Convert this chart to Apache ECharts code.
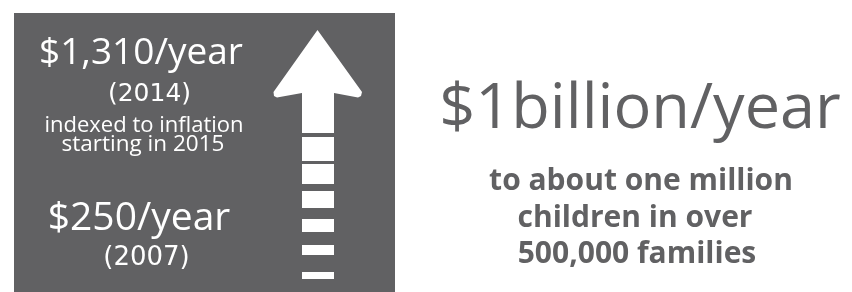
<!DOCTYPE html>
<html>
<head>
<meta charset="utf-8">
<script src="https://cdn.jsdelivr.net/npm/echarts@6/dist/echarts.min.js"></script>
<style>
html,body{margin:0;padding:0;background:#fff;}
#chart{width:852px;height:292px;}
</style>
</head>
<body>
<div id="chart"></div>
<script>
// ---- content ----
var topAmount = '$1,310/year';
var topYear = '(2014)';
var noteLines = ['indexed to inflation', 'starting in 2015'];
var baseAmount = '$250/year';
var baseYear = '(2007)';
var headline = '$1billion/year';
var subLines = ['to about one million', 'children in over', '500,000 families'];

var BOX = '#616163';
var FONT = '"Open Sans", sans-serif';
var FONT2 = '"DejaVu Sans", sans-serif';

var chart = echarts.init(document.getElementById('chart'), null, {renderer: 'canvas'});

function txt(s, x, y, size, weight, color, fam) {
  return {
    type: 'text', x: x, y: y, silent: true,
    style: {text: s, fill: color, font: weight + ' ' + size + 'px ' + (fam || FONT), align: 'center', verticalAlign: 'middle'}
  };
}

var elems = [];
// dark panel
elems.push({type: 'rect', shape: {x: 14, y: 13, width: 381, height: 279}, style: {fill: BOX}});
// arrow head + shaft
elems.push({
  type: 'polygon',
  shape: {points: [[317.5, 30], [362, 92], [361, 96], [358, 97.5], [334, 93], [334, 133], [302, 133], [302, 93], [277, 97.5], [274, 96], [273.5, 92]]},
  style: {fill: '#fff'}
});
// dashed tail of the arrow
var dashes = [[137, 161], [164, 184], [191, 208], [219, 232], [245, 255], [272, 279]];
dashes.forEach(function (d) {
  elems.push({type: 'rect', shape: {x: 302, y: d[0], width: 32, height: d[1] - d[0]}, style: {fill: '#fff'}});
});

// left texts
elems.push(txt(topAmount, 141, 53, 37, 'normal', '#fff'));
elems.push(txt(topYear, 149.5, 94, 25, 'normal', '#fff', FONT2));
elems.push(txt(noteLines[0], 144, 126, 22, 'normal', '#fff'));
elems.push(txt(noteLines[1], 143, 145, 22.5, 'normal', '#fff'));
elems.push(txt(baseAmount, 139, 219, 39, 'normal', '#fff'));
elems.push(txt(baseYear, 146.5, 258, 26, 'normal', '#fff', FONT2));

// right texts
elems.push(txt(headline, 640, 110, 63, 'normal', BOX));
elems.push(txt(subLines[0], 641, 181, 30, 'bold', BOX));
elems.push(txt(subLines[1], 635, 218, 30, 'bold', BOX));
elems.push(txt(subLines[2], 637, 254, 30, 'bold', BOX));

chart.setOption({
  animation: false,
  graphic: {elements: elems}
});
</script>
</body>
</html>
